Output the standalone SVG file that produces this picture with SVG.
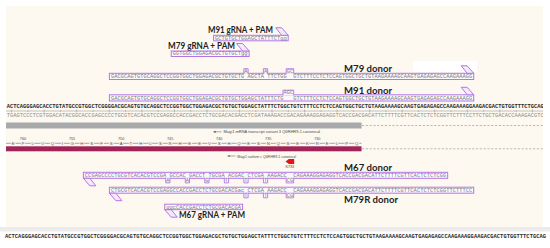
<svg xmlns="http://www.w3.org/2000/svg" width="550" height="248" viewBox="0 0 550 248">
<defs>
<style>
.seq{font-family:"Liberation Mono","DejaVu Sans Mono",monospace;font-size:5.4px;}
.box{fill:#fbf8fe;stroke:#b574e8;stroke-width:1;}
.flag{fill:#f3eafc;stroke:#b574e8;stroke-width:1;}
.bump{fill:#fbf8fe;stroke:#b574e8;stroke-width:0.9;}
.ftxt{fill:#7a7a7a;}
.lbl{font-family:Lato,"Liberation Sans",sans-serif;font-weight:700;fill:#1f1f1f;}
.glbl{font-size:9px;}
.dlbl{font-size:10px;}
.topst{fill:#2a2a2a;font-weight:700;}
.botst{fill:#8a8a8a;}
.small{font-family:"Liberation Sans",Arial,sans-serif;fill:#4a4a4a;}
.dash{stroke:#9d9d9d;stroke-width:0.7;stroke-dasharray:2.2 1.6;fill:none;}
.tick{stroke:#8a8a8a;stroke-width:0.5;fill:none;}
</style>
<clipPath id="panel"><rect x="6" y="6" width="537" height="221"/></clipPath>
</defs>

<rect x="0" y="0" width="550" height="248" fill="#ffffff"/>
<rect x="6" y="6" width="537" height="221" fill="#fdf9f0"/>

<g id="m91-grna">
<text class="lbl glbl" x="208" y="33.3" textLength="65" lengthAdjust="spacingAndGlyphs">M91 gRNA + PAM</text>
<rect class="box" x="213.57" y="35.3" width="74.61" height="5.5"/>
<polygon class="flag" points="275.68,27.8 281.68,27.8 288.18,35.3 281.68,35.3"/>
<text class="seq ftxt" x="215.07" y="39.6" textLength="71.61" lengthAdjust="spacing">GCTGTGCTGGAGCTATTTCTgg</text>
</g>

<g id="m79-grna">
<text class="lbl glbl" x="168" y="49" textLength="67" lengthAdjust="spacingAndGlyphs">M79 gRNA + PAM</text>
<rect class="box" x="171.25" y="51" width="77.87" height="5.5"/>
<polygon class="flag" points="236.62,43.5 242.62,43.5 249.12,51 242.62,51"/>
<text class="seq ftxt" x="172.75" y="55.3" textLength="74.865" lengthAdjust="spacing">GGTGGCTGGAGACGCTGTGCTgg</text>
</g>

<g id="m79-donor">
<rect x="413" y="61" width="64" height="11" fill="#ffffff"/>
<text class="lbl dlbl" x="344" y="72.4" textLength="48" lengthAdjust="spacingAndGlyphs">M79 donor</text>
<rect class="box" x="109.4" y="73.3" width="364.31" height="6.2"/>
<polygon class="flag" points="461.21,65.8 467.21,65.8 473.71,73.3 467.21,73.3"/>
<path class="bump" d="M243.86 73.8V68.7H248.115V73.8"/>
<path class="bump" d="M263.39 73.8V68.7H267.645V73.8"/>
<path class="bump" d="M286.175 73.8V68.7H293.685V73.8"/>
<text class="seq ftxt" x="244.36" y="72.7">A</text>
<text class="seq ftxt" x="263.89" y="72.7">A</text>
<text class="seq ftxt" x="286.675" y="72.7" textLength="6.51">GC</text>
<text class="seq ftxt" x="110.905" y="78.1" textLength="361.305" lengthAdjust="spacing" xml:space="preserve" style="white-space:pre">GACGCAGTGTGCAGGCTCCGGTGGCTGGAGACGCTGTGCTG AGCTA TTCTGG  GTCTTTCCTCTCCAGTGGCTGCTGTAAGAAAAGCAAGTGAGAGAGCCAAGAAAGG</text>
</g>

<g id="m91-donor">
<text class="lbl dlbl" x="344" y="94" textLength="48" lengthAdjust="spacingAndGlyphs">M91 donor</text>
<rect class="box" x="109.4" y="94.8" width="364.31" height="6.2"/>
<polygon class="flag" points="461.21,87.3 467.21,87.3 473.71,94.8 467.21,94.8"/>
<path class="bump" d="M282.92 95.3V90.2H293.685V95.3"/>
<text class="seq ftxt" x="283.42" y="94.2" textLength="9.765">AGC</text>
<text class="seq ftxt" x="110.905" y="99.6" textLength="361.305" lengthAdjust="spacing" xml:space="preserve" style="white-space:pre">GACGCAGTGTGCAGGCTCCGGTGGCTGGAGACGCTGTGCTGGAGCTATTTCTG   GTCTTTCCTCTCCAGTGGCTGCTGTAAGAAAAGCAAGTGAGAGAGCCAAGAAAGG</text>
</g>

<g id="genome" clip-path="url(#panel)">
<text class="seq topst" x="6.745" y="108" textLength="537.075" lengthAdjust="spacing">ACTCAGGGAGCACCTGTATGCCGTGGCTCGGGGACGCAGTGTGCAGGCTCCGGTGGCTGGAGACGCTGTGCTGGAGCTATTTCTGGCTGTCTTTCCTCTCCAGTGGCTGCTGTAAGAAAAGCAAGTGAGAGAGCCAAGAAAGGAAGACGACTGTGGTTTCTGCAG</text>
<path class="tick" d="M6 111H543"/>
<path class="tick" d="M11.63 109.5V112.5M27.9 110.2V111.8M44.18 109.5V112.5M60.45 110.2V111.8M76.73 109.5V112.5M93 110.2V111.8M109.28 109.5V112.5M125.55 110.2V111.8M141.83 109.5V112.5M158.1 110.2V111.8M174.38 109.5V112.5M190.65 110.2V111.8M206.93 109.5V112.5M223.2 110.2V111.8M239.48 109.5V112.5M255.75 110.2V111.8M272.03 109.5V112.5M288.3 110.2V111.8M304.58 109.5V112.5M320.85 110.2V111.8M337.13 109.5V112.5M353.4 110.2V111.8M369.68 109.5V112.5M385.95 110.2V111.8M402.23 109.5V112.5M418.5 110.2V111.8M434.78 109.5V112.5M451.05 110.2V111.8M467.33 109.5V112.5M483.6 110.2V111.8M499.88 109.5V112.5M516.15 110.2V111.8M532.43 109.5V112.5"/>
<text class="seq botst" x="6.745" y="116.5" textLength="537.075" lengthAdjust="spacing">TGAGTCCCTCGTGGACATACGGCACCGAGCCCCTGCGTCACACGTCCGAGGCCACCGACCTCTGCGACACGACCTCGATAAAGACCGACAGAAAGGAGAGGTCACCGACGACATTCTTTTCGTTCACTCTCTCGGTTCTTTCCTTCTGCTGACACCAAAGACGTC</text>
</g>

<g id="transcript">
<rect x="6" y="122.5" width="355.54" height="6" fill="#a8a9ab"/>
<path class="dash" d="M362 125.5H543"/>
<path d="M215 131.8H221.5" stroke="#555" stroke-width="0.5"/>
<polygon points="213,131.8 215.6,130.7 215.6,132.9" fill="#555"/>
<text class="small" x="223.5" y="133.3" font-size="4.2" textLength="96.5" lengthAdjust="spacingAndGlyphs">Magi1 mRNA transcript variant 3 Q6RHR9-1 canonical</text>
</g>

<g id="protein">
<g class="small" font-size="3.8" text-anchor="middle" fill="#555">
<text x="23.01" y="139.8">760</text>
<text x="72.06" y="139.8">755</text>
<text x="121.11" y="139.8">750</text>
<text x="170.16" y="139.8">745</text>
<text x="219.21" y="139.8">740</text>
<text x="268.26" y="139.8">735</text>
<text x="317.31" y="139.8">730</text>
</g>
<path d="M6 143.3H361.5" stroke="#6a6a6a" stroke-width="0.6"/>
<path class="tick" d="M23.01 140.8V143.3M72.06 140.8V143.3M121.11 140.8V143.3M170.16 140.8V143.3M219.21 140.8V143.3M268.26 140.8V143.3M317.31 140.8V143.3"/>
<text class="small" font-size="4.3" fill="#333" text-anchor="middle" stroke="#fdf9f0" stroke-width="2" paint-order="stroke" x="13.2 23.01 32.82 42.63 52.44 62.25 72.06 81.87 91.68 101.49 111.3 121.11 130.92 140.73 150.54 160.35 170.16 179.97 189.78 199.59 209.4 219.21 229.02 238.83 248.64 258.45 268.26 278.07 287.88 297.69 307.5 317.31 327.12 336.93 346.74 356.55" y="144.9">EPLVQIGHSFSATHLSRHEEVSHQESNQSEKRELPQ</text>
<rect x="6" y="146.3" width="355.54" height="5" fill="#a02458"/>
<path class="dash" d="M362 148.8H543"/>
<path d="M229 156H235.5" stroke="#555" stroke-width="0.5"/>
<polygon points="227,156 229.6,154.9 229.6,157.1" fill="#555"/>
<text class="small" x="237.3" y="157.6" font-size="4.2" textLength="58.7" lengthAdjust="spacingAndGlyphs">Magi1 isoform c Q6RHR9-1 canonical</text>
</g>

<g id="s733">
<polygon points="285.5,161.5 288.8,159 294.2,159 294.2,164 288.8,164" fill="#e5141c"/>
<text class="small" x="289.8" y="168.3" font-size="3.8" text-anchor="middle" fill="#555">S733</text>
</g>

<g id="m67-donor">
<text class="lbl dlbl" x="344" y="171.3" textLength="48" lengthAdjust="spacingAndGlyphs">M67 donor</text>
<rect class="box" x="83.37" y="172.3" width="364.3" height="6"/>
<polygon class="flag" points="83.37,178.3 89.87,178.3 95.87,185.8 89.87,185.8"/>
<path class="bump" d="M165.74 177.8V182.9H169.995V177.8"/>
<path class="bump" d="M185.27 177.8V182.9H189.525V177.8"/>
<path class="bump" d="M204.8 177.8V182.9H209.055V177.8"/>
<path class="bump" d="M224.33 177.8V182.9H228.585V177.8"/>
<path class="bump" d="M243.86 177.8V182.9H248.115V177.8"/>
<path class="bump" d="M263.39 177.8V182.9H267.645V177.8"/>
<path class="bump" d="M286.175 177.8V182.9H293.685V177.8"/>
<text class="seq ftxt" x="166.24" y="182.1">A</text>
<text class="seq ftxt" x="185.77" y="182.1">A</text>
<text class="seq ftxt" x="205.3" y="182.1">G</text>
<text class="seq ftxt" x="224.83" y="182.1">T</text>
<text class="seq ftxt" x="244.36" y="182.1">T</text>
<text class="seq ftxt" x="263.89" y="182.1">T</text>
<text class="seq ftxt" x="286.675" y="182.1" textLength="6.51">CG</text>
<text class="seq ftxt" x="84.865" y="177" textLength="361.305" lengthAdjust="spacing" xml:space="preserve" style="white-space:pre">CCGAGCCCCTGCGTCACACGTCCGA GCCAC GACCT TGCGA ACGAC CTCGA AAGACC  CAGAAAGGAGAGGTCACCGACGACATTCTTTTCGTTCACTCTCTCGG</text>
</g>

<g id="m79r-donor">
<rect class="box" x="109.4" y="187.2" width="364.31" height="6"/>
<polygon class="flag" points="109.4,193.2 115.9,193.2 121.9,200.7 115.9,200.7"/>
<path class="bump" d="M243.86 192.7V197.8H248.115V192.7"/>
<path class="bump" d="M263.39 192.7V197.8H267.645V192.7"/>
<path class="bump" d="M286.175 192.7V197.8H293.685V192.7"/>
<text class="seq ftxt" x="244.36" y="197">T</text>
<text class="seq ftxt" x="263.89" y="197">T</text>
<text class="seq ftxt" x="286.675" y="197" textLength="6.51">CG</text>
<text class="seq ftxt" x="110.905" y="191.9" textLength="361.305" lengthAdjust="spacing" xml:space="preserve" style="white-space:pre">CTGCGTCACACGTCCGAGGCCACCGACCTCTGCGACACGac CTCGA AAGACC  CAGAAAGGAGAGGTCACCGACGACATTCTTTTCGTTCACTCTCTCGGTTCTTTCC</text>
<text class="lbl dlbl" x="344" y="202.8" textLength="54" lengthAdjust="spacingAndGlyphs">M79R donor</text>
</g>

<g id="m67-grna">
<rect class="box" x="164.74" y="204.2" width="77.87" height="5.5"/>
<polygon class="flag" points="164.74,209.7 171.24,209.7 177.24,217.2 171.24,217.2"/>
<text class="seq ftxt" x="166.24" y="208.5" textLength="74.865" lengthAdjust="spacing">ggcCACCGACCTCTGCGACACGA</text>
<text class="lbl" font-size="8.7" x="179" y="218.4" textLength="66" lengthAdjust="spacingAndGlyphs">M67 gRNA + PAM</text>
</g>

<g id="bottom-sequence">
<rect x="0" y="227.5" width="550" height="1" fill="#d8d8d8"/>
<rect x="0" y="228.5" width="550" height="3" fill="#ececec"/>
<text class="seq topst" x="5" y="238.3" textLength="541" lengthAdjust="spacing">ACTCAGGGAGCACCTGTATGCCGTGGCTCGGGGACGCAGTGTGCAGGCTCCGGTGGCTGGAGACGCTGTGCTGGAGCTATTTCTGGCTGTCTTTCCTCTCCAGTGGCTGCTGTAAGAAAAGCAAGTGAGAGAGCCAAGAAAGGAAGACGACTGTGGTTTCTGCAG</text>
</g>
</svg>
